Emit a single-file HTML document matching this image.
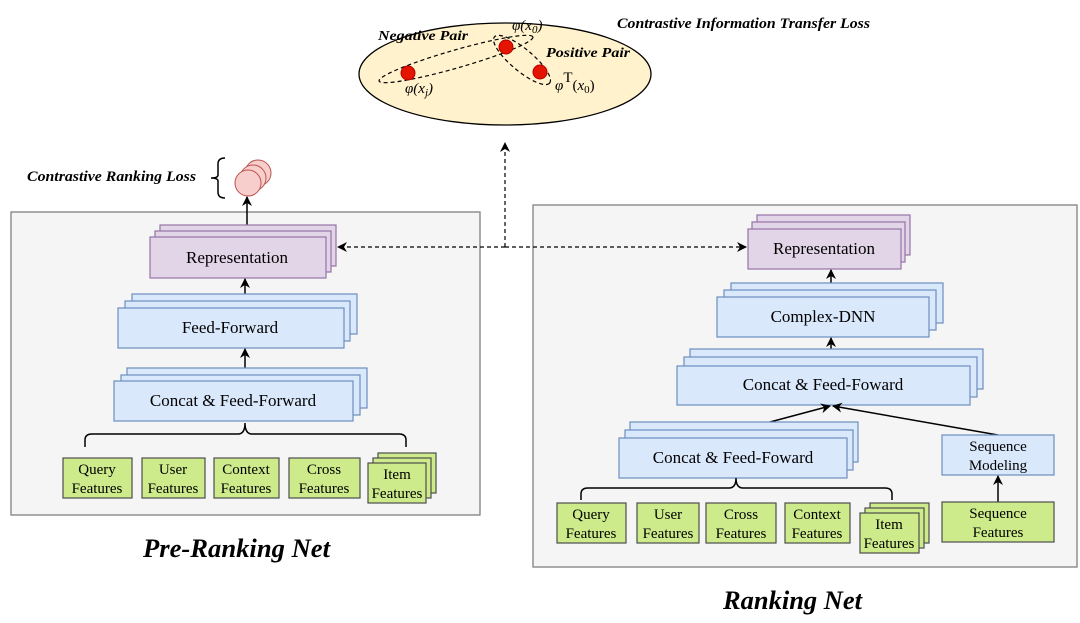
<!DOCTYPE html>
<html><head><meta charset="utf-8"><style>
html,body{margin:0;padding:0;background:#fff;}
svg{display:block;}
text{font-family:"Liberation Serif",serif;fill:#000;}
.bi{font-weight:bold;font-style:italic;}
.pu{fill:#e1d5e7;stroke:#9673a6;stroke-width:1.2;}
.bl{fill:#dae8fc;stroke:#6c8ebf;stroke-width:1.2;}
.gr{fill:#cdeb8b;stroke:#4d4d4d;stroke-width:1.2;}
.ln{stroke:#000;stroke-width:1.5;fill:none;}
.da{stroke:#000;stroke-width:1.2;fill:none;stroke-dasharray:4 3;}
</style></head><body>
<svg width="1080" height="623" viewBox="0 0 1080 623" xmlns="http://www.w3.org/2000/svg">
<defs>
<marker id="ar" viewBox="0 0 10 10" refX="9" refY="5" markerWidth="10" markerHeight="10" orient="auto-start-reverse" markerUnits="userSpaceOnUse"><path d="M0,0 L10,5 L0,10 L3,5 z" fill="#000"/></marker>
</defs>

<ellipse cx="505" cy="74" rx="146" ry="51" fill="#fff2cc" stroke="#000" stroke-width="1.3"/>
<ellipse cx="456" cy="59" rx="80" ry="9" transform="rotate(-16 456 59)" class="da"/>
<ellipse cx="522" cy="60" rx="36" ry="11" transform="rotate(40 522 60)" class="da"/>
<circle cx="408" cy="73" r="7" fill="#e51400" stroke="#b20000"/>
<circle cx="506" cy="47" r="7" fill="#e51400" stroke="#b20000"/>
<circle cx="540" cy="72" r="7" fill="#e51400" stroke="#b20000"/>
<text x="378" y="40" class="bi" font-size="14" textLength="90" lengthAdjust="spacingAndGlyphs">Negative Pair</text>
<text x="546" y="57" class="bi" font-size="14" textLength="84" lengthAdjust="spacingAndGlyphs">Positive Pair</text>
<text x="512" y="30" font-size="15" font-style="italic">φ(x<tspan font-size="11" dy="3">0</tspan><tspan dy="-3">)</tspan></text>
<text x="405" y="93" font-size="15" font-style="italic">φ(x<tspan font-size="11" dy="3">j</tspan><tspan dy="-3">)</tspan></text>
<text x="555" y="90" font-size="15"><tspan font-style="italic">φ</tspan><tspan dy="-8">T</tspan><tspan dy="8">(</tspan><tspan font-style="italic">x</tspan><tspan font-size="11" dy="3">0</tspan><tspan dy="-3">)</tspan></text>
<text x="617" y="28" class="bi" font-size="15" textLength="253" lengthAdjust="spacingAndGlyphs">Contrastive Information Transfer Loss</text>

<rect x="11" y="212" width="469" height="303" fill="#f5f5f5" stroke="#808080" stroke-width="1.3"/>
<text x="27" y="181" class="bi" font-size="15" textLength="169" lengthAdjust="spacingAndGlyphs">Contrastive Ranking Loss</text>
<path d="M225,158 Q218,158 218,164 L218,175 Q218,178 211,178 Q218,178 218,181 L218,192 Q218,198 225,198" class="ln" stroke-width="1.2"/>
<circle cx="258" cy="173" r="13" fill="#f8cecc" stroke="#b85450"/>
<circle cx="253" cy="178" r="13" fill="#f8cecc" stroke="#b85450"/>
<circle cx="248" cy="183" r="13" fill="#f8cecc" stroke="#b85450"/>
<line x1="247" y1="225" x2="247" y2="197" class="ln" marker-end="url(#ar)"/>

<rect x="160" y="225" width="176" height="41" class="pu"/>
<rect x="155" y="231" width="176" height="41" class="pu"/>
<rect x="150" y="237" width="176" height="41" class="pu"/>
<text x="237" y="263" font-size="17" text-anchor="middle">Representation</text>
<line x1="245" y1="294" x2="245" y2="279" class="ln" marker-end="url(#ar)"/>

<rect x="132" y="294" width="225" height="40" class="bl"/>
<rect x="125" y="301" width="225" height="40" class="bl"/>
<rect x="118" y="308" width="226" height="40" class="bl"/>
<text x="230" y="333" font-size="17" text-anchor="middle">Feed-Forward</text>
<line x1="245" y1="368" x2="245" y2="349" class="ln" marker-end="url(#ar)"/>

<rect x="127" y="368" width="240" height="40" class="bl"/>
<rect x="121" y="375" width="239" height="40" class="bl"/>
<rect x="114" y="381" width="239" height="40" class="bl"/>
<text x="233" y="406" font-size="17" text-anchor="middle">Concat &amp; Feed-Forward</text>
<path d="M85,447 L85,440 Q85,434 92,434 L238,434 Q245,434 245,423 Q245,434 252,434 L399,434 Q406,434 406,440 L406,447" class="ln" stroke-width="1.2"/>

<g font-size="15" text-anchor="middle">
<rect x="63" y="458" width="69" height="40" class="gr"/><text x="97" y="474">Query</text><text x="97" y="493">Features</text>
<rect x="142" y="458" width="63" height="40" class="gr"/><text x="173" y="474">User</text><text x="173" y="493">Features</text>
<rect x="214" y="458" width="65" height="40" class="gr"/><text x="246" y="474">Context</text><text x="246" y="493">Features</text>
<rect x="289" y="458" width="71" height="40" class="gr"/><text x="324" y="474">Cross</text><text x="324" y="493">Features</text>
<rect x="378" y="453" width="58" height="40" class="gr"/>
<rect x="373" y="458" width="58" height="40" class="gr"/>
<rect x="368" y="463" width="58" height="40" class="gr"/><text x="397" y="479">Item</text><text x="397" y="498">Features</text>
</g>
<text x="143" y="557" class="bi" font-size="26" textLength="187" lengthAdjust="spacingAndGlyphs">Pre-Ranking Net</text>

<rect x="533" y="205" width="544" height="362" fill="#f5f5f5" stroke="#808080" stroke-width="1.3"/>
<rect x="757" y="215" width="153" height="40" class="pu"/>
<rect x="752" y="222" width="153" height="40" class="pu"/>
<rect x="748" y="229" width="153" height="40" class="pu"/>
<text x="824" y="254" font-size="17" text-anchor="middle">Representation</text>
<line x1="831" y1="297" x2="831" y2="270" class="ln" marker-end="url(#ar)"/>

<rect x="731" y="283" width="212" height="40" class="bl"/>
<rect x="724" y="290" width="212" height="40" class="bl"/>
<rect x="717" y="297" width="212" height="40" class="bl"/>
<text x="823" y="322" font-size="17" text-anchor="middle">Complex-DNN</text>
<line x1="831" y1="349" x2="831" y2="338" class="ln" marker-end="url(#ar)"/>

<rect x="690" y="349" width="293" height="40" class="bl"/>
<rect x="684" y="357" width="293" height="40" class="bl"/>
<rect x="677" y="366" width="293" height="39" class="bl"/>
<text x="823" y="390" font-size="17" text-anchor="middle">Concat &amp; Feed-Foward</text>
<line x1="770" y1="422" x2="830" y2="406" class="ln" marker-end="url(#ar)"/>
<line x1="998" y1="435" x2="833" y2="406" class="ln" marker-end="url(#ar)"/>

<rect x="630" y="422" width="228" height="40" class="bl"/>
<rect x="625" y="430" width="228" height="40" class="bl"/>
<rect x="619" y="438" width="228" height="40" class="bl"/>
<text x="733" y="463" font-size="17" text-anchor="middle">Concat &amp; Feed-Foward</text>

<rect x="942" y="435" width="112" height="40" class="bl"/>
<text x="998" y="451" font-size="15" text-anchor="middle">Sequence</text>
<text x="998" y="470" font-size="15" text-anchor="middle">Modeling</text>
<line x1="998" y1="502" x2="998" y2="476" class="ln" marker-end="url(#ar)"/>
<rect x="942" y="502" width="112" height="40" class="gr"/>
<text x="998" y="518" font-size="15" text-anchor="middle">Sequence</text>
<text x="998" y="537" font-size="15" text-anchor="middle">Features</text>

<path d="M581,500 L581,494 Q581,488 588,488 L729,488 Q736,488 736,478 Q736,488 743,488 L885,488 Q892,488 892,494 L892,500" class="ln" stroke-width="1.2"/>
<g font-size="15" text-anchor="middle">
<rect x="557" y="503" width="69" height="40" class="gr"/><text x="591" y="519">Query</text><text x="591" y="538">Features</text>
<rect x="637" y="503" width="62" height="40" class="gr"/><text x="668" y="519">User</text><text x="668" y="538">Features</text>
<rect x="706" y="503" width="70" height="40" class="gr"/><text x="741" y="519">Cross</text><text x="741" y="538">Features</text>
<rect x="785" y="503" width="65" height="40" class="gr"/><text x="817" y="519">Context</text><text x="817" y="538">Features</text>
<rect x="870" y="503" width="59" height="40" class="gr"/>
<rect x="865" y="508" width="59" height="40" class="gr"/>
<rect x="860" y="513" width="59" height="40" class="gr"/><text x="889" y="529">Item</text><text x="889" y="548">Features</text>
</g>
<text x="723" y="609" class="bi" font-size="26" textLength="139" lengthAdjust="spacingAndGlyphs">Ranking Net</text>

<line x1="505" y1="247" x2="338" y2="247" class="da" marker-end="url(#ar)"/>
<line x1="505" y1="247" x2="746" y2="247" class="da" marker-end="url(#ar)"/>
<line x1="505" y1="247" x2="505" y2="143" class="da" marker-end="url(#ar)"/>
</svg>
</body></html>
